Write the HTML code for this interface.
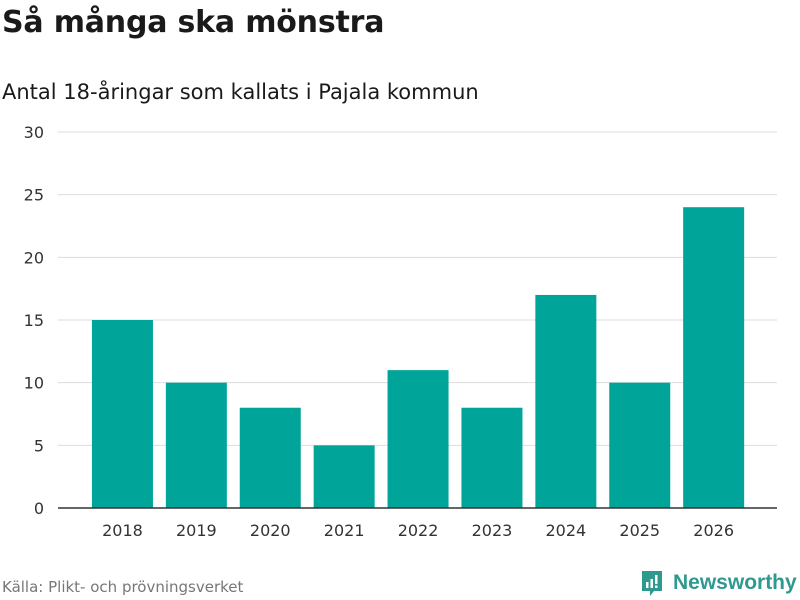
<!DOCTYPE html>
<html><head><meta charset="utf-8"><style>
body{margin:0;background:#fff;font-family:"DejaVu Sans","Liberation Sans",sans-serif;}
#wrap{position:relative;width:800px;height:600px;overflow:hidden;}
h1{position:absolute;left:2px;top:5px;margin:0;font-size:30px;font-weight:bold;color:#1a1a1a;letter-spacing:-0.2px}
h2{position:absolute;left:2px;top:80px;margin:0;font-size:21px;font-weight:normal;color:#1a1a1a}
.src{position:absolute;left:2px;top:578px;font-size:15px;color:#777}
.logo{position:absolute;left:640px;top:569px;display:flex;align-items:center;color:#2e9a8f;font-size:21px;font-weight:bold;font-family:"Liberation Sans",sans-serif}
</style></head><body>
<div id="wrap">
<h1>Så många ska mönstra</h1>
<h2>Antal 18-åringar som kallats i Pajala kommun</h2>
<svg id="svg" width="800" height="600" style="position:absolute;left:0;top:0"></svg>
<div class="src">Källa: Plikt- och prövningsverket</div>
<div class="logo"><svg width="24" height="28" viewBox="0 0 24 28" style="margin-right:9px"><path d="M2 2h20v20h-8l-4 5v-5H2z" fill="#2e9a8f"/><rect x="6" y="13" width="2.5" height="6" fill="#fff"/><rect x="10.5" y="10" width="2.5" height="9" fill="#fff"/><rect x="15" y="6" width="2.5" height="9" fill="#fff"/><rect x="15" y="16.5" width="2.5" height="2.5" fill="#fff"/></svg>Newsworthy</div>
</div>
<script>
const categories=["2018","2019","2020","2021","2022","2023","2024","2025","2026"];
const values=[15,10,8,5,11,8,17,10,24];
const yTicks=[0,5,10,15,20,25,30];
const svg=document.getElementById('svg');const NS="http://www.w3.org/2000/svg";
const y=v=>508-v*(376/30);
const step=73.9, x0=85.5, bw=61;
const xc=i=>x0+step*(i+0.5);
function mk(t,a){const e=document.createElementNS(NS,t);for(const k in a)e.setAttribute(k,a[k]);svg.appendChild(e);return e;}
yTicks.forEach(t=>{
 if(t>0){const l=mk('line',{x1:58,x2:777,y1:y(t),y2:y(t),stroke:'#dddddd','stroke-width':1});
 
 }
 const tx=mk('text',{x:44,y:y(t)+6,'text-anchor':'end','font-size':16,fill:'#333','font-family':'DejaVu Sans, Liberation Sans, sans-serif'});
 tx.textContent=t;
 
 
});
values.forEach((v,i)=>{
 const r=mk('rect',{x:xc(i)-bw/2,y:y(v),width:bw,height:508-y(v),fill:'#00a499'});
 
 
 const tx=mk('text',{x:xc(i),y:536,'text-anchor':'middle','font-size':16,fill:'#333','font-family':'DejaVu Sans, Liberation Sans, sans-serif'});
 tx.textContent=categories[i];
 
 
});
const ax=mk('line',{x1:58,x2:777,y1:508,y2:508,stroke:'#333','stroke-width':1.5});


</script>
</body></html>
